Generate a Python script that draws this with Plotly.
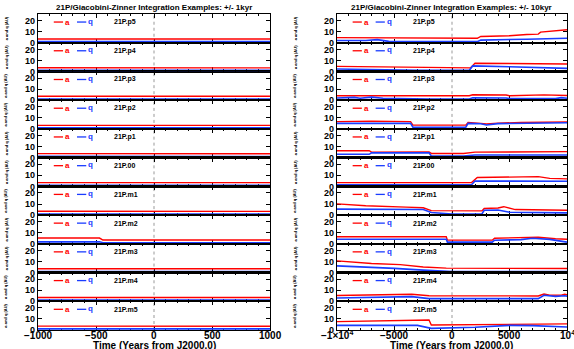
import plotly.graph_objects as go

# ---------------- data ----------------
PANELS = ["21P.p5", "21P.p4", "21P.p3", "21P.p2", "21P.p1", "21P.00",
          "21P.m1", "21P.m2", "21P.m3", "21P.m4", "21P.m5"]

TITLE_1K = "21P/Giacobini-Zinner Integration Examples: +/- 1kyr"
TITLE_10K = "21P/Giacobini-Zinner Integration Examples: +/- 10kyr"
XTITLE = "Time (Years from J2000.0)"
YTITLE = "a and q (AU)"

X1K_TICKS = [-1000, -500, 0, 500, 1000]
X1K_TEXT = ["\u22121000", "\u2212500", "0", "500", "1000"]
X10K_TICKS = [-10000, -5000, 0, 5000, 10000]
X10K_TEXT = ["\u22121\u00d710<sup>4</sup>", "\u22125000", "0", "5000", "10<sup>4</sup>"]
Y_TICKS = [0, 10, 20]

# +/- 1 kyr column: [time, value] breakpoints for a (red) and q (blue)
A1K_p5 = [[-1000, 3.4], [1000, 3.4]]
Q1K_p5 = [[-1000, 1.0], [-400, 1.0], [-380, 1.5], [-100, 1.5], [-90, 1.0], [1000, 1.0]]
A1K_p4 = [[-1000, 3.3], [1000, 3.2]]
Q1K_p4 = [[-1000, 1.0], [1000, 1.0]]
A1K_p3 = [[-1000, 3.5], [1000, 3.5]]
Q1K_p3 = [[-1000, 1.0], [1000, 1.0]]
A1K_p2 = [[-1000, 3.2], [1000, 3.2]]
Q1K_p2 = [[-1000, 1.0], [1000, 1.0]]
A1K_p1 = [[-1000, 3.6], [1000, 3.5]]
Q1K_p1 = [[-1000, 1.1], [1000, 1.0]]
A1K_00 = [[-1000, 3.4], [1000, 3.4]]
Q1K_00 = [[-1000, 1.0], [1000, 1.0]]
A1K_m1 = [[-1000, 3.5], [1000, 3.4]]
Q1K_m1 = [[-1000, 1.0], [1000, 1.0]]
A1K_m2 = [[-1000, 5.2], [-470, 5.2], [-440, 3.4], [1000, 3.4]]
Q1K_m2 = [[-1000, 1.8], [-470, 1.8], [-440, 1.0], [1000, 1.0]]
A1K_m3 = [[-1000, 3.5], [1000, 3.4]]
Q1K_m3 = [[-1000, 1.0], [1000, 1.0]]
A1K_m4 = [[-1000, 3.4], [1000, 3.4]]
Q1K_m4 = [[-1000, 1.0], [1000, 1.0]]
A1K_m5 = [[-1000, 3.5], [1000, 3.4]]
Q1K_m5 = [[-1000, 1.0], [1000, 1.0]]

# +/- 10 kyr column
A10K_p5 = [[-10000, 4.6], [-7000, 4.4], [-4000, 4.0], [2200, 4.0], [2500, 5.7], [5000, 6.3],
           [6500, 7.4], [7500, 7.8], [7700, 9.6], [9000, 10.8], [10000, 11.8]]
Q10K_p5 = [[-10000, 2.0], [-7500, 2.0], [-6500, 2.8], [-5500, 1.2], [2200, 1.0], [2500, 2.4],
           [6500, 3.2], [8000, 3.8], [10000, 4.0]]
A10K_p4 = [[-10000, 4.6], [-5000, 3.8], [1600, 3.2], [2000, 7.4], [6000, 7.0], [10000, 6.8]]
Q10K_p4 = [[-10000, 2.2], [-3000, 1.0], [1500, 1.0], [1800, 5.0], [5000, 4.2], [10000, 2.8]]
A10K_p3 = [[-10000, 4.0], [1500, 4.0], [1800, 4.9], [4700, 4.7], [5000, 4.0], [7500, 4.2],
           [8000, 4.8], [10000, 4.2]]
Q10K_p3 = [[-10000, 2.0], [-8500, 2.5], [-8000, 1.8], [-7000, 2.8], [-6000, 1.8], [-2000, 1.0],
           [1500, 1.0], [1800, 2.1], [4700, 2.0], [5000, 1.4], [9000, 1.4], [9500, 2.3], [10000, 1.8]]
A10K_p2 = [[-10000, 6.6], [-7000, 7.0], [-3600, 6.6], [-3400, 3.4], [1200, 3.4], [1400, 5.8],
           [2500, 5.0], [3000, 4.4], [4000, 5.2], [6000, 5.8], [10000, 6.2]]
Q10K_p2 = [[-10000, 5.0], [-3600, 5.0], [-3400, 1.5], [1200, 1.5], [1400, 5.0], [2500, 4.6],
           [3000, 3.6], [4000, 4.8], [10000, 5.6]]
A10K_p1 = [[-10000, 6.3], [-7200, 6.3], [-7000, 5.0], [-2000, 5.2], [-1800, 3.8], [1000, 3.8],
           [2000, 5.0], [10000, 5.4]]
Q10K_p1 = [[-10000, 3.0], [-7200, 3.0], [-7000, 4.3], [-2000, 4.4], [-1800, 1.5], [1000, 1.5],
           [2000, 2.4], [10000, 2.4]]
A10K_00 = [[-10000, 3.4], [1700, 3.4], [2200, 8.0], [5000, 8.6], [7500, 8.8], [8500, 7.2],
           [10000, 6.8]]
Q10K_00 = [[-10000, 1.4], [1700, 1.4], [2000, 4.8], [10000, 4.6]]
A10K_m1 = [[-10000, 10.2], [-9000, 9.6], [-7500, 8.4], [-4000, 7.2], [-2500, 6.6], [-1800, 4.0],
           [2600, 3.8], [2800, 6.0], [4000, 6.4], [4500, 7.6], [5500, 5.0], [10000, 4.4]]
Q10K_m1 = [[-10000, 5.4], [-2500, 5.0], [-1800, 2.4], [0, 1.0], [2600, 1.0], [2800, 4.4],
           [4000, 4.6], [5000, 2.6], [10000, 2.0]]
A10K_m2 = [[-10000, 6.4], [-500, 6.4], [-400, 3.3], [3500, 3.3], [3700, 5.1], [6000, 5.6],
           [7500, 6.0], [9000, 4.6], [10000, 4.1]]
Q10K_m2 = [[-10000, 4.2], [-500, 4.2], [-400, 1.5], [3500, 1.5], [3700, 3.3], [6000, 3.8],
           [7000, 5.0], [8500, 4.0], [10000, 1.5]]
A10K_m3 = [[-10000, 10.6], [-8500, 9.2], [-7000, 8.2], [-4500, 7.2], [-2500, 5.0], [-500, 4.0],
           [10000, 3.6]]
Q10K_m3 = [[-10000, 6.0], [-7000, 4.8], [-5000, 3.8], [-2500, 2.2], [0, 1.0], [10000, 0.9]]
A10K_m4 = [[-10000, 5.2], [-7000, 5.6], [-3500, 6.4], [-2000, 5.0], [7500, 4.8], [8000, 6.6],
           [8500, 5.4], [9500, 5.6], [9800, 6.4], [10000, 6.0]]
Q10K_m4 = [[-10000, 3.0], [-7000, 3.6], [-3500, 4.2], [-2000, 2.4], [7500, 2.4], [8000, 5.4],
           [9000, 4.4], [9800, 5.0], [10000, 4.6]]
A10K_m5 = [[-10000, 7.6], [-5000, 8.2], [-2000, 9.0], [-1800, 4.5], [3000, 5.0], [10000, 5.5]]
Q10K_m5 = [[-10000, 4.2], [-3000, 4.2], [-1800, 1.5], [2000, 2.5], [5000, 4.2], [7000, 4.0],
           [10000, 2.7]]

A1K = [A1K_p5, A1K_p4, A1K_p3, A1K_p2, A1K_p1, A1K_00, A1K_m1, A1K_m2, A1K_m3, A1K_m4, A1K_m5]
Q1K = [Q1K_p5, Q1K_p4, Q1K_p3, Q1K_p2, Q1K_p1, Q1K_00, Q1K_m1, Q1K_m2, Q1K_m3, Q1K_m4, Q1K_m5]
A10K = [A10K_p5, A10K_p4, A10K_p3, A10K_p2, A10K_p1, A10K_00, A10K_m1, A10K_m2, A10K_m3, A10K_m4, A10K_m5]
Q10K = [Q10K_p5, Q10K_p4, Q10K_p3, Q10K_p2, Q10K_p1, Q10K_00, Q10K_m1, Q10K_m2, Q10K_m3, Q10K_m4, Q10K_m5]

# ---------------- layout ----------------
W, H = 574, 349
ML, MR, MT, MB = 38, 7, 14, 19
PW = W - ML - MR
PH = H - MT - MB
COL_DOM = [[0.0, 232 / PW], [(337 - ML) / PW, 1.0]]
N = len(PANELS)

FONT = "Liberation Sans"
RED = "#ff0000"
BLUE = "#1a3cff"

fig = go.Figure()
layout = dict(
    width=W, height=H, margin=dict(l=ML, r=MR, t=MT, b=MB),
    paper_bgcolor="white", plot_bgcolor="white", showlegend=False,
    font=dict(family=FONT, size=8, color="black"),
)
annotations = []
shapes = []

for col in range(2):
    rng = [-1000, 1000] if col == 0 else [-10000, 10000]
    A = A1K if col == 0 else A10K
    Q = Q1K if col == 0 else Q10K
    XT = X1K_TICKS if col == 0 else X10K_TICKS
    XL = X1K_TEXT if col == 0 else X10K_TEXT
    for r in range(N):
        idx = col * N + r + 1
        xa = "xaxis" if idx == 1 else f"xaxis{idx}"
        ya = "yaxis" if idx == 1 else f"yaxis{idx}"
        xr = "x" if idx == 1 else f"x{idx}"
        yr = "y" if idx == 1 else f"y{idx}"
        y0 = 1 - (r + 1) / N
        y1 = 1 - r / N
        bottom = r == N - 1
        layout[xa] = dict(
            domain=COL_DOM[col], range=rng, anchor=yr,
            showline=True, linecolor="black", linewidth=1.2, mirror="ticks",
            ticks="inside", ticklen=4, tickwidth=1, tickcolor="black",
            tickmode="array", tickvals=XT, showticklabels=False,
            minor=dict(ticks="inside", ticklen=2, tickwidth=1, tickcolor="black",
                       tickmode="linear", tick0=0, dtick=100 if col == 0 else 1000),
            showgrid=False, zeroline=False, fixedrange=True, layer="below traces",
        )
        layout[ya] = dict(
            domain=[y0, y1], range=[0, 26], anchor=xr,
            showline=True, linecolor="black", linewidth=1.2, mirror="ticks",
            ticks="inside", ticklen=4, tickwidth=1, tickcolor="black",
            tickmode="array", tickvals=Y_TICKS, ticktext=[str(v) for v in Y_TICKS],
            tickfont=dict(size=9, family=FONT, weight="bold"),
            showgrid=False, zeroline=False, fixedrange=True, layer="below traces",
        )
        ta = [p[0] for p in A[r]]
        va = [p[1] for p in A[r]]
        tq = [p[0] for p in Q[r]]
        vq = [p[1] for p in Q[r]]
        fig.add_trace(go.Scatter(x=ta, y=va, mode="lines", xaxis=xr, yaxis=yr, cliponaxis=False,
                                 line=dict(color=RED, width=1.4), hoverinfo="skip"))
        fig.add_trace(go.Scatter(x=tq, y=vq, mode="lines", xaxis=xr, yaxis=yr, cliponaxis=False,
                                 line=dict(color=BLUE, width=1.6), hoverinfo="skip"))
        # x tick labels on the bottom panel, placed through the axis scale
        if bottom:
            for tv, tl in zip(XT, XL):
                annotations.append(dict(text=tl, xref=xr, yref="paper", x=tv, y=-5 / PH,
                                        xanchor="center", yanchor="middle", showarrow=False,
                                        font=dict(size=10, family=FONT, weight="bold")))
        # dotted zero line
        shapes.append(dict(type="line", xref=xr, yref=f"{yr} domain", x0=0, x1=0, y0=0, y1=1,
                           line=dict(color="#999999", width=1, dash="dot"), layer="below"))
        # in-panel legend
        ly = 0.72
        shapes.append(dict(type="line", xref=f"{xr} domain", yref=f"{yr} domain",
                           x0=0.068, x1=0.108, y0=ly, y1=ly, line=dict(color=RED, width=1.3)))
        shapes.append(dict(type="line", xref=f"{xr} domain", yref=f"{yr} domain",
                           x0=0.168, x1=0.208, y0=ly, y1=ly, line=dict(color=BLUE, width=1.3)))
        annotations.append(dict(text="a", xref=f"{xr} domain", yref=f"{yr} domain",
                                x=0.108, y=ly, xanchor="left", yanchor="middle", showarrow=False,
                                font=dict(size=8, color=RED, family=FONT, weight="bold")))
        annotations.append(dict(text="q", xref=f"{xr} domain", yref=f"{yr} domain",
                                x=0.208, y=ly + 0.03, xanchor="left", yanchor="middle", showarrow=False,
                                font=dict(size=8, color=BLUE, family=FONT, weight="bold")))
        annotations.append(dict(text=PANELS[r], xref=f"{xr} domain", yref=f"{yr} domain",
                                x=0.32, y=ly, xanchor="left", yanchor="middle", showarrow=False,
                                font=dict(size=7, color="black", family=FONT, weight="bold")))
        # y-axis title (tiny, rotated)
        annotations.append(dict(text=YTITLE, xref="paper", yref="paper",
                                x=(6 - ML) / PW if col == 0 else (295 - ML) / PW,
                                y=(y0 + y1) / 2, xanchor="center", yanchor="middle",
                                textangle=-90, showarrow=False,
                                font=dict(size=4, color="black", family=FONT, weight="bold")))

# column titles and x-axis titles
for col, title in enumerate([TITLE_1K, TITLE_10K]):
    cx = (COL_DOM[col][0] + COL_DOM[col][1]) / 2
    annotations.append(dict(text=title, xref="paper", yref="paper", x=cx, y=1,
                            yshift=0, xanchor="center", yanchor="bottom", showarrow=False,
                            font=dict(size=8, family=FONT, weight="bold")))
    annotations.append(dict(text=XTITLE, xref="paper", yref="paper", x=cx, y=-15 / PH,
                            xanchor="center", yanchor="middle", showarrow=False,
                            font=dict(size=10, family=FONT, weight="bold")))

layout["annotations"] = annotations
layout["shapes"] = shapes
fig.update_layout(**layout)
fig.write_html("out.html", config={"displayModeBar": False, "staticPlot": True},
               post_script="document.body.style.margin='0';document.body.style.padding='0';"
                           "document.body.style.overflow='hidden';")
